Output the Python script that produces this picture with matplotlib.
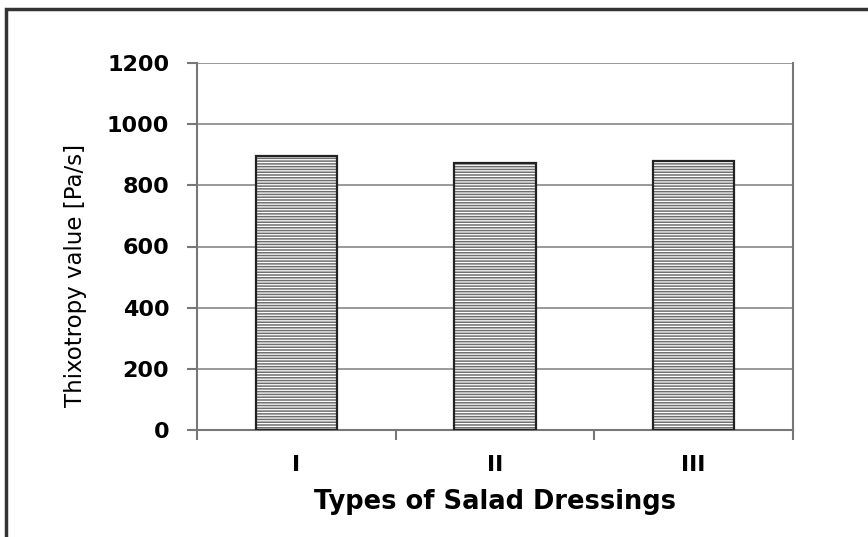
import matplotlib.pyplot as plt
from matplotlib.patches import Rectangle

# data
categorias = ['I', 'II', 'III']
tixotropia = [896, 873, 879]

plt.rcParams['font.family'] = 'DejaVu Sans'
plt.rcParams['hatch.color'] = 'white'
plt.rcParams['hatch.linewidth'] = 0.9

fig = plt.figure(figsize=(8.68, 5.37), dpi=100)
ax = fig.add_axes([197 / 868, 1 - 430 / 537, 596 / 868, 367 / 537])

# moldura externa
fig.patches.append(Rectangle((6 / 868, -0.05), 1.1, 1 - 9 / 537 + 0.05,
                             transform=fig.transFigure, fill=False,
                             edgecolor='#333333', linewidth=2.5))

x = range(len(categorias))
ax.bar(x, tixotropia, width=0.41, color='#6e6e6e', hatch='------',
       edgecolor='white', linewidth=0, zorder=3)
ax.bar(x, tixotropia, width=0.41, fill=False, edgecolor='#222222',
       linewidth=1.6, zorder=4)

ax.set_xlim(-0.5, 2.5)
ax.set_ylim(0, 1200)
ax.set_yticks(range(0, 1201, 200))
ax.set_xticks([-0.5, 0.5, 1.5, 2.5])
ax.set_xticklabels([])
ax.set_xticks(list(x), minor=True)
ax.set_xticklabels(categorias, minor=True, fontsize=16, fontweight='bold')
ax.tick_params(axis='x', which='minor', length=0, pad=18)
ax.tick_params(axis='x', which='major', length=7, color='#777777', width=1.5)
ax.tick_params(axis='y', length=7, color='#777777', width=1.5, pad=13)
for lbl in ax.get_yticklabels():
    lbl.set_fontsize(16)
    lbl.set_fontweight('bold')

ax.grid(axis='y', color='#888888', linewidth=1.2, zorder=0)
for s in ['left', 'bottom', 'right']:
    ax.spines[s].set_color('#777777')
    ax.spines[s].set_linewidth(1.5)
ax.spines['top'].set_visible(False)

ax.set_ylabel('Thixotropy value [Pa/s]', fontsize=16.5)
ax.yaxis.set_label_coords(-0.185, 0.42)
ax.set_xlabel('Types of Salad Dressings', fontsize=18.5, fontweight='bold', labelpad=10)

fig.savefig('out.png', dpi=100)
